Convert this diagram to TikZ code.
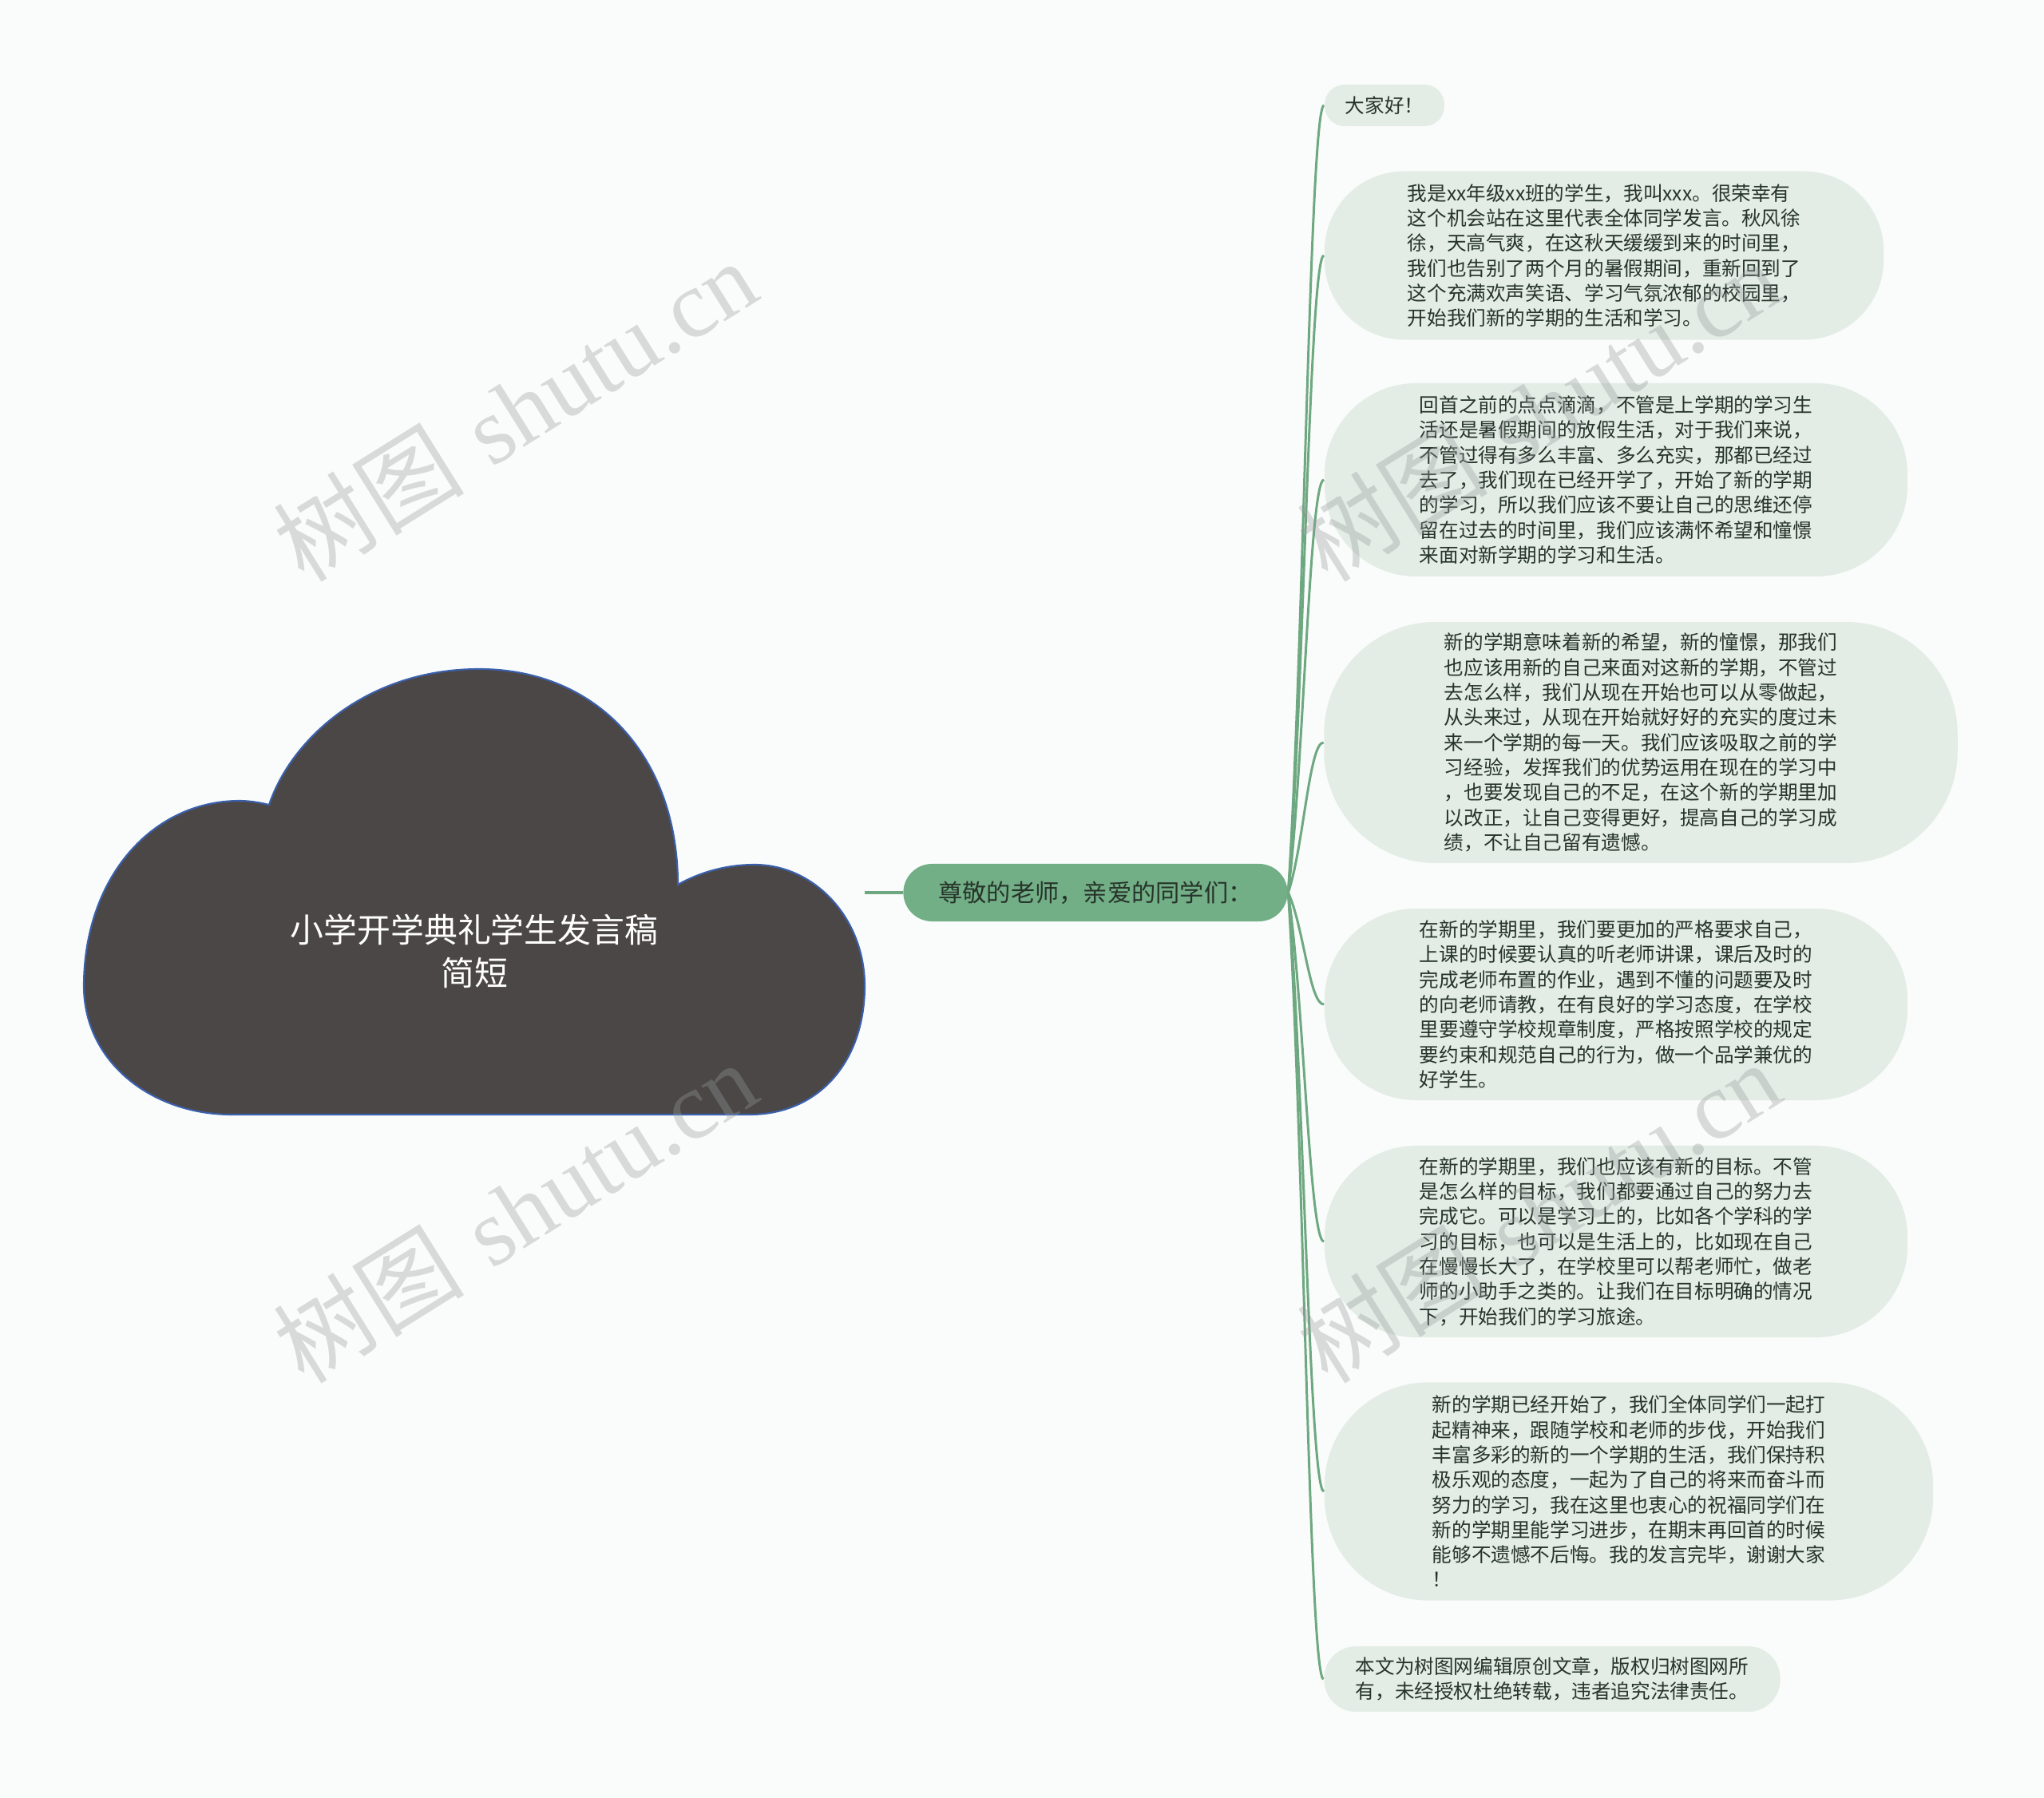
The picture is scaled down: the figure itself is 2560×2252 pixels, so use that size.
\documentclass[tikz,border=0pt]{standalone}
\usepackage{fontspec}
\newfontfamily\cjk{Noto Sans CJK SC}
\newfontfamily\wmserif{Liberation Serif}
\usepackage{tikz}
\usetikzlibrary{calc,positioning}
\usepackage{xcolor}
\definecolor{bgcol}{RGB}{250,252,251}
\definecolor{cloudfill}{RGB}{76,71,71}
\definecolor{cloudedge}{RGB}{58,96,172}
\definecolor{midfill}{RGB}{114,174,134}
\definecolor{linecol}{RGB}{110,168,128}
\definecolor{leaffill}{RGB}{227,237,230}
\definecolor{leaftext}{RGB}{38,52,42}
\definecolor{wmgray}{RGB}{150,156,156}
\tikzset{
  cloudshape/.style={
    fill=cloudfill,
    draw=cloudedge,
    line width=0.6pt,
  },
  topic/.style={
    font=\cjk\fontsize{11.9}{15.3}\selectfont,
    text=white,
    align=center,
  },
  midbranch/.style={
    fill=midfill,
    rounded corners=0.36cm,
    minimum width=4.81cm,
    minimum height=0.72cm,
    inner sep=0pt,
    font=\cjk\fontsize{8.6}{10}\selectfont,
    text=leaftext,
  },
  leaf/.style={
    fill=leaffill,
    inner sep=0pt,
    align=left,
    font=\cjk\fontsize{7}{8.9}\selectfont,
    text=leaftext,
  },
  trunk/.style={draw=linecol, line width=1.4pt},
  branch/.style={draw=linecol, line width=0.85pt},
  watermark/.style={
    text=wmgray,
    opacity=0.35,
    rotate=32,
    font=\fontsize{34}{40}\selectfont,
  },
}

\begin{document}
\begin{tikzpicture}[x=0.01cm, y=-0.01cm]
  \fill[bgcol] (0,0) rectangle (2560,2252);
  \useasboundingbox (0,0) rectangle (2560,2252);
  % cloud
  \filldraw[cloudshape] (290,1396) -- (939,1396)
    .. controls (1025,1396) and (1083,1330) .. (1083,1235)
    .. controls (1083,1150) and (1020,1083) .. (945,1083)
    .. controls (905,1083) and (872,1095) .. (849,1108)
    .. controls (849,950) and (750,838) .. (600,838)
    .. controls (460,838) and (365,925) .. (337,1008)
    .. controls (325,1005) and (312,1003) .. (300,1003)
    .. controls (190,1003) and (105,1100) .. (105,1235)
    .. controls (105,1330) and (190,1396) .. (290,1396) -- cycle;
  \node[topic] (root) at (594,1191) {小学开学典礼学生发言稿\\简短};
  \coordinate (cloudR) at (1083,1118);
  \node[midbranch] (mid) at (1372,1118) {尊敬的老师，亲爱的同学们：};
  \draw[trunk] (cloudR) -- (mid.west);
  % leaves
  \node[leaf, rounded corners=0.25cm, minimum width=1.5cm, minimum height=0.52cm] (L1) at (1734,132) {大家好！};
  \node[leaf, rounded corners=1.0cm, minimum width=7.0cm, minimum height=2.11cm] (L2) at (2009,320) {%
    我是xx年级xx班的学生，我叫xxx。很荣幸有\\
    这个机会站在这里代表全体同学发言。秋风徐\\
    徐，天高气爽，在这秋天缓缓到来的时间里，\\
    我们也告别了两个月的暑假期间，重新回到了\\
    这个充满欢声笑语、学习气氛浓郁的校园里，\\
    开始我们新的学期的生活和学习。};
  \node[leaf, rounded corners=1.15cm, minimum width=7.3cm, minimum height=2.42cm] (L3) at (2024,601) {%
    回首之前的点点滴滴，不管是上学期的学习生\\
    活还是暑假期间的放假生活，对于我们来说，\\
    不管过得有多么丰富、多么充实，那都已经过\\
    去了，我们现在已经开学了，开始了新的学期\\
    的学习，所以我们应该不要让自己的思维还停\\
    留在过去的时间里，我们应该满怀希望和憧憬\\
    来面对新学期的学习和生活。};
  \node[leaf, rounded corners=1.4cm, minimum width=7.93cm, minimum height=3.02cm] (L4) at (2055,930) {%
    新的学期意味着新的希望，新的憧憬，那我们\\
    也应该用新的自己来面对这新的学期，不管过\\
    去怎么样，我们从现在开始也可以从零做起，\\
    从头来过，从现在开始就好好的充实的度过未\\
    来一个学期的每一天。我们应该吸取之前的学\\
    习经验，发挥我们的优势运用在现在的学习中\\
    ，也要发现自己的不足，在这个新的学期里加\\
    以改正，让自己变得更好，提高自己的学习成\\
    绩，不让自己留有遗憾。};
  \node[leaf, rounded corners=1.15cm, minimum width=7.3cm, minimum height=2.4cm] (L5) at (2024,1258) {%
    在新的学期里，我们要更加的严格要求自己，\\
    上课的时候要认真的听老师讲课，课后及时的\\
    完成老师布置的作业，遇到不懂的问题要及时\\
    的向老师请教，在有良好的学习态度，在学校\\
    里要遵守学校规章制度，严格按照学校的规定\\
    要约束和规范自己的行为，做一个品学兼优的\\
    好学生。};
  \node[leaf, rounded corners=1.15cm, minimum width=7.3cm, minimum height=2.4cm] (L6) at (2024,1555) {%
    在新的学期里，我们也应该有新的目标。不管\\
    是怎么样的目标，我们都要通过自己的努力去\\
    完成它。可以是学习上的，比如各个学科的学\\
    习的目标，也可以是生活上的，比如现在自己\\
    在慢慢长大了，在学校里可以帮老师忙，做老\\
    师的小助手之类的。让我们在目标明确的情况\\
    下，开始我们的学习旅途。};
  \node[leaf, rounded corners=1.3cm, minimum width=7.62cm, minimum height=2.73cm] (L7) at (2040,1868) {%
    新的学期已经开始了，我们全体同学们一起打\\
    起精神来，跟随学校和老师的步伐，开始我们\\
    丰富多彩的新的一个学期的生活，我们保持积\\
    极乐观的态度，一起为了自己的将来而奋斗而\\
    努力的学习，我在这里也衷心的祝福同学们在\\
    新的学期里能学习进步，在期末再回首的时候\\
    能够不遗憾不后悔。我的发言完毕，谢谢大家\\
    ！};
  \node[leaf, rounded corners=0.4cm, minimum width=5.71cm, minimum height=0.82cm] (L8) at (1944,2103) {%
    本文为树图网编辑原创文章，版权归树图网所\\
    有，未经授权杜绝转载，违者追究法律责任。};
  \foreach \i in {1,...,8} {
    \draw[branch] (mid.east) .. controls ($(mid.east)!0.3!(L\i.west) + (6,0)$)
      and ($(L\i.west) + (-18,0)$) .. (L\i.west);
  }
  % watermarks
  \node[watermark] (wm1) at (645,514) {{\cjk 树图} {\wmserif shutu.cn}};
  \node[watermark] (wm2) at (645,1518) {{\cjk 树图} {\wmserif shutu.cn}};
  \node[watermark] (wm3) at (1927,514) {{\cjk 树图} {\wmserif shutu.cn}};
  \node[watermark] (wm4) at (1927,1518) {{\cjk 树图} {\wmserif shutu.cn}};
\end{tikzpicture}
\end{document}
